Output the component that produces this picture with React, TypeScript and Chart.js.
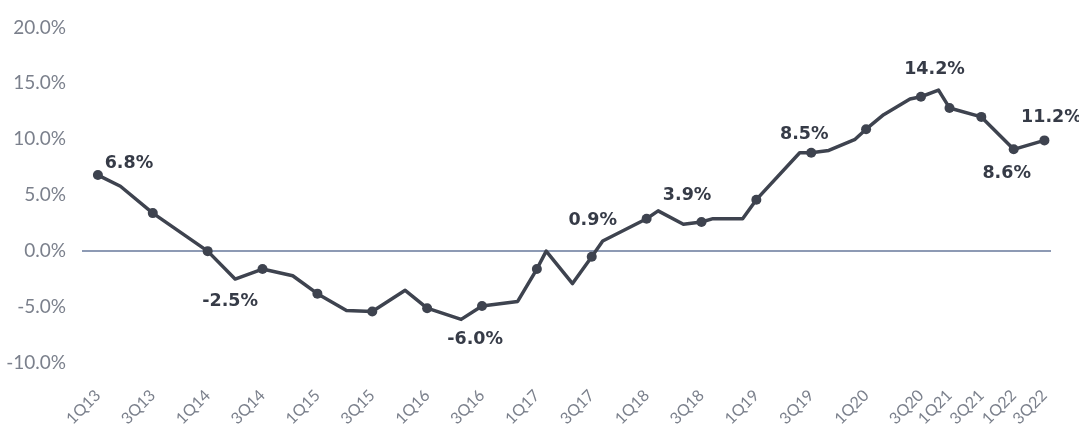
import React, { useEffect, useRef } from 'react';
import { Chart, registerables } from 'chart.js';
Chart.register(...registerables);

const tickLabels = ['1Q13', '3Q13', '1Q14', '3Q14', '1Q15', '3Q15', '1Q16', '3Q16', '1Q17', '3Q17', '1Q18', '3Q18', '1Q19', '3Q19', '1Q20', '3Q20', '1Q21', '3Q21', '1Q22', '3Q22'];
const tickValues = [0, 1, 2, 3, 4, 5, 6, 7, 8, 9, 10, 11, 12, 13, 14, 15, 15.52, 16.1, 16.69, 17.25];

const xValues = [0, 0.41, 1, 2, 2.5, 3, 3.55, 4, 4.53, 5, 5.6, 6, 6.62, 7, 7.65, 8, 8.17, 8.65, 9, 9.2, 10, 10.21, 10.67, 11, 11.21, 11.75, 12, 12.79, 13, 13.32, 13.8, 14, 14.32, 14.8, 15, 15.32, 15.52, 16.1, 16.69, 17.25];
const yValues = [6.8, 5.8, 3.4, 0.0, -2.5, -1.6, -2.2, -3.8, -5.3, -5.4, -3.5, -5.1, -6.1, -4.9, -4.5, -1.6, 0.0, -2.9, -0.5, 0.9, 2.9, 3.6, 2.4, 2.6, 2.9, 2.9, 4.6, 8.8, 8.8, 9.0, 10.0, 10.9, 12.2, 13.6, 13.8, 14.4, 12.8, 12.0, 9.1, 9.9];

const labelPointIndex = [0, 4, 12, 19, 21, 28, 35, 38, 39];
const labelTexts = ['6.8%', '-2.5%', '-6.0%', '0.9%', '3.9%', '8.5%', '14.2%', '8.6%', '11.2%'];

// pixel offsets of the value labels (style, not data)
const labelOffsets: [number, number][] = [[31, -12], [-5, 22], [14, 20], [-10, -21], [29, -15], [-7, -18], [-4, -21], [-7, 24], [7, -23]];

const LINE = '#3e434f';
const TICK = '#7b808c';

const valueLabelPlugin = {
  id: 'valueLabels',
  afterDatasetsDraw(chart: any) {
    const meta = chart.getDatasetMeta(0);
    const ctx = chart.ctx;
    ctx.save();
    ctx.font = 'bold 17.5px "DejaVu Sans"';
    ctx.fillStyle = '#363b47';
    ctx.textAlign = 'center';
    ctx.textBaseline = 'middle';
    labelPointIndex.forEach((idx, k) => {
      const el = meta.data[idx];
      if (!el) return;
      const [dx, dy] = labelOffsets[k];
      ctx.fillText(labelTexts[k], el.x + dx, el.y + dy);
    });
    ctx.restore();
  },
};

export default function App() {
  const ref = useRef<HTMLCanvasElement | null>(null);
  useEffect(() => {
    if (!ref.current) return;
    const chart = new Chart(ref.current, {
      type: 'line',
      data: {
        datasets: [
          {
            data: xValues.map((x, i) => ({ x, y: yValues[i] })),
            borderColor: LINE,
            backgroundColor: LINE,
            borderWidth: 3.5,
            tension: 0,
            pointRadius: (c: any) => (tickValues.includes(xValues[c.dataIndex]) ? 5 : 0),
            pointBackgroundColor: LINE,
            pointBorderWidth: 0,
            borderJoinStyle: 'round',
          },
        ],
      },
      options: {
        animation: false,
        responsive: true,
        maintainAspectRatio: false,
        layout: { padding: { top: 22, right: 28, bottom: 0, left: 0 } },
        plugins: { legend: { display: false }, tooltip: { enabled: false } },
        scales: {
          x: {
            type: 'linear',
            min: -0.29,
            max: 17.37,
            grid: { display: false },
            border: { display: false },
            afterBuildTicks: (scale: any) => {
              scale.ticks = tickValues.map((v) => ({ value: v }));
            },
            afterFit: (scale: any) => {
              scale.height = 62;
            },
            ticks: {
              autoSkip: false,
              minRotation: 45,
              maxRotation: 45,
              padding: 15,
              color: TICK,
              font: { family: 'Lato', size: 16, weight: '400' },
              callback: (_v: any, i: number) => tickLabels[i],
            },
          },
          y: {
            min: -10,
            max: 20,
            afterFit: (scale: any) => {
              scale.width = 82;
            },
            border: { display: false },
            grid: {
              drawTicks: false,
              color: (c: any) => (c.tick && c.tick.value === 0 ? '#8d9ab4' : 'rgba(0,0,0,0)'),
              lineWidth: 2,
            },
            ticks: {
              stepSize: 5,
              padding: 16,
              color: TICK,
              font: { family: 'Lato', size: 19, weight: '400' },
              callback: (v: any) => Number(v).toFixed(1) + '%',
            },
          },
        },
      },
      plugins: [valueLabelPlugin],
    });
    return () => chart.destroy();
  }, []);
  return (
    <div style={{ position: 'fixed', left: 0, top: 0, width: 1079, height: 425 }}>
      <canvas ref={ref} />
    </div>
  );
}
